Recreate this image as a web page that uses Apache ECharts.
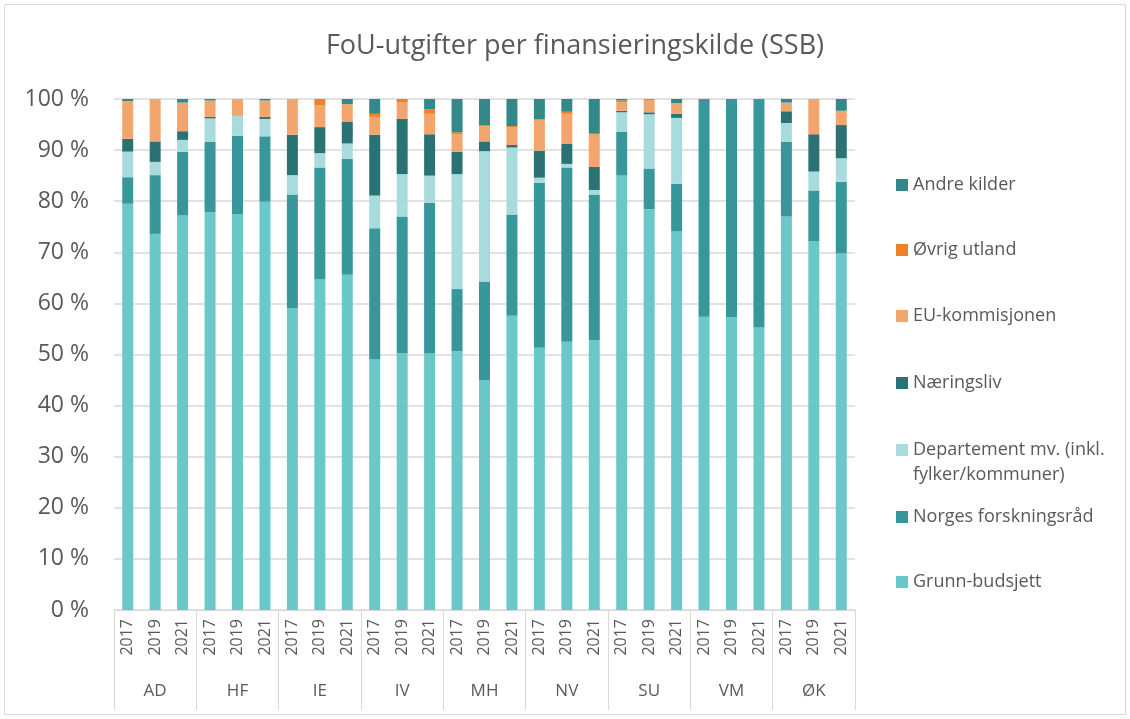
<!DOCTYPE html>
<html>
<head>
<meta charset="utf-8">
<script src="https://cdn.jsdelivr.net/npm/echarts@6/dist/echarts.min.js"></script>
<style>
html,body{margin:0;padding:0;background:#fff;}
#chart{width:1130px;height:719px;}
</style>
</head>
<body>
<div id="chart"></div>
<script>
const groups = ['AD','HF','IE','IV','MH','NV','SU','VM','ØK'];
const years = ['2017','2019','2021'];
const yTicks = [0,10,20,30,40,50,60,70,80,90,100];

// values in %, order of bars: AD17, AD19, AD21, HF17, ... ØK21
const grunn = [79.5,73.6,77.2, 77.8,77.4,79.9, 59.1,64.7,65.6, 49.0,50.3,50.2, 50.6,44.9,57.6, 51.3,52.5,52.8, 85.0,78.4,74.1, 57.4,57.3,55.3, 77.0,72.2,69.8];
const nfr   = [5.2,11.5,12.5, 13.8,15.4,12.8, 22.2,21.9,22.7, 25.7,26.7,29.5, 12.2,19.4,19.8, 32.3,34.1,28.5, 8.6,8.0,9.3, 42.6,42.7,44.7, 14.6,9.9,14.0];
const dep   = [5.0,2.6,2.3, 4.6,3.9,3.4, 3.8,2.8,3.0, 6.4,8.3,5.3, 22.5,25.5,13.1, 1.0,0.7,0.9, 3.8,10.6,12.9, 0,0,0, 3.7,3.7,4.6];
const naer  = [2.5,4.0,1.7, 0.3,0,0.4, 7.9,5.1,4.3, 11.9,10.8,8.1, 4.4,1.9,0.5, 5.3,3.9,4.5, 0.3,0.4,0.8, 0,0,0, 2.3,7.3,6.5];
const eu    = [7.4,8.3,5.6, 3.2,3.3,3.2, 7.0,4.2,3.4, 3.5,3.2,4.0, 3.4,3.0,3.4, 6.1,5.9,6.5, 1.7,2.4,2.1, 0,0,0, 1.7,6.9,2.8];
const ovrig = [0,0,0, 0,0,0, 0,1.3,0, 0.6,0.7,0.9, 0.4,0.2,0.3, 0,0.4,0, 0.3,0.2,0, 0,0,0, 0,0,0];
const andre = [0.4,0,0.7, 0.3,0,0.3, 0,0,1.0, 2.9,0,2.0, 6.5,5.1,5.3, 4.0,2.5,6.8, 0.3,0,0.8, 0,0,0, 0.7,0,2.3];

const depName = 'Departement mv. (inkl. fylker/kommuner)';
const depLines = ['Departement mv. (inkl.', 'fylker/kommuner)'];
const seriesNames = ['Grunn-budsjett','Norges forskningsråd',depName,'Næringsliv','EU-kommisjonen','Øvrig utland','Andre kilder'];
const seriesData = [grunn, nfr, dep, naer, eu, ovrig, andre];
const colors = ['#6AC9C8','#38979A','#A8DCDC','#2B7274','#F2A66E','#EE8228','#33888A'];

const cats = [];
groups.forEach(g => years.forEach(y => cats.push(y)));

const font = "'Open Sans', 'Noto Sans', sans-serif";
const txt = '#595959';
const grid = '#D9D9D9';

const series = seriesNames.map((n, i) => ({
  name: n,
  type: 'bar',
  stack: 'total',
  barWidth: 11,
  xAxisIndex: 0,
  yAxisIndex: 0,
  itemStyle: { color: colors[i] },
  emphasis: { disabled: true },
  data: seriesData[i]
}));

// legend positions (icon centre y), top to bottom
const legendItems = [
  { name: 'Andre kilder', y: 185 },
  { name: 'Øvrig utland', y: 250 },
  { name: 'EU-kommisjonen', y: 316 },
  { name: 'Næringsliv', y: 383 },
  { name: depName, y: 450 },
  { name: 'Norges forskningsråd', y: 517 },
  { name: 'Grunn-budsjett', y: 582 }
];
const legends = legendItems.map(it => ({
  show: true,
  orient: 'vertical',
  left: 896,
  top: it.y - 11,
  padding: 0,
  itemWidth: 12,
  itemHeight: 12,
  itemGap: 0,
  selectedMode: false,
  icon: 'rect',
  data: [it.name],
  formatter: n => n === depName ? depLines[0] : n,
  textStyle: { fontFamily: font, fontSize: 18, color: txt, lineHeight: 22 }
}));

const chart = echarts.init(document.getElementById('chart'), null, { renderer: 'canvas' });
chart.setOption({
  animation: false,
  backgroundColor: '#fff',
  title: {
    text: 'FoU-utgifter per finansieringskilde (SSB)',
    left: 570,
    textAlign: 'center',
    top: 28,
    textStyle: { fontFamily: font, fontSize: 27, fontWeight: 'normal', color: txt }
  },
  legend: legends,
  grid: { left: 114, right: 275, top: 99, bottom: 109, containLabel: false },
  xAxis: [
    {
      type: 'category',
      data: cats,
      position: 'bottom',
      axisLine: { show: true, lineStyle: { color: grid, width: 1 } },
      axisTick: { show: false },
      axisLabel: { rotate: 90, margin: 9, interval: 0, fontFamily: font, fontSize: 16, color: txt }
    },
    {
      type: 'category',
      data: groups,
      position: 'bottom',
      axisLine: { show: false },
      axisTick: { show: true, length: 100, interval: 0, lineStyle: { color: grid, width: 1 } },
      axisLabel: { margin: 73, interval: 0, fontFamily: font, fontSize: 17, color: txt }
    }
  ],
  yAxis: {
    type: 'value',
    min: 0,
    max: 100,
    interval: 10,
    axisLine: { show: false },
    axisTick: { show: false },
    axisLabel: { margin: 25, fontFamily: font, fontSize: 23, color: txt, formatter: v => yTicks.includes(v) ? v + ' %' : '' },
    splitLine: { show: true, lineStyle: { color: grid, width: 1.5 } }
  },
  graphic: [
    {
      type: 'rect',
      shape: { x: 4.5, y: 4.5, width: 1121, height: 710 },
      style: { fill: 'none', stroke: grid, lineWidth: 1 },
      silent: true,
      z: -1
    },
    {
      type: 'text',
      left: 913,
      top: 475 - 11,
      silent: true,
      style: { text: depLines[1], font: "18px 'Open Sans', 'Noto Sans', sans-serif", fill: txt, lineHeight: 22 }
    }
  ],
  series: series
});
</script>
</body>
</html>
